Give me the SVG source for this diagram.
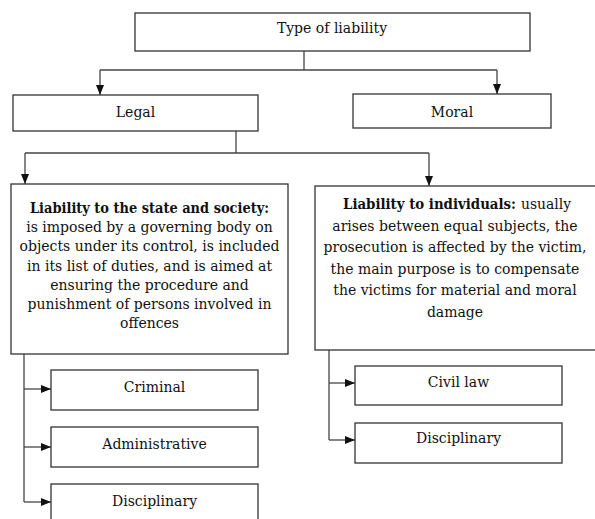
<svg xmlns="http://www.w3.org/2000/svg" width="595" height="519" viewBox="0 0 595 519">
<style>
  .box { fill: #ffffff; stroke: #333333; stroke-width: 1.3; }
  .conn { fill: none; stroke: #444444; stroke-width: 1.3; }
  text { font-family: 'DejaVu Serif', serif; font-size: 14px; fill: #111111; text-anchor: middle; }
  .b { font-weight: bold; }
  .s { text-anchor: start; }
</style>
<defs>
  <marker id="arr" viewBox="0 0 10 8" refX="10" refY="4" markerWidth="10" markerHeight="8" orient="auto" markerUnits="userSpaceOnUse">
    <path d="M0,0 L10,4 L0,8 z" fill="#111111"/>
  </marker>
</defs>
<rect width="595" height="519" fill="#ffffff"/>

<g id="connectors">
  <path class="conn" d="M304,51 V70"/>
  <path class="conn" d="M100,70 H497"/>
  <path class="conn" d="M100,70 V95" marker-end="url(#arr)"/>
  <path class="conn" d="M497,70 V94" marker-end="url(#arr)"/>
  <path class="conn" d="M236,131 V153"/>
  <path class="conn" d="M25,153 H429"/>
  <path class="conn" d="M25,153 V184" marker-end="url(#arr)"/>
  <path class="conn" d="M429,153 V186" marker-end="url(#arr)"/>
  <path class="conn" d="M24,354 V502"/>
  <path class="conn" d="M24,389 H51" marker-end="url(#arr)"/>
  <path class="conn" d="M24,447 H51" marker-end="url(#arr)"/>
  <path class="conn" d="M24,502 H51" marker-end="url(#arr)"/>
  <path class="conn" d="M329,350 V440"/>
  <path class="conn" d="M329,383 H355" marker-end="url(#arr)"/>
  <path class="conn" d="M329,440 H355" marker-end="url(#arr)"/>
</g>

<g id="type">
  <rect class="box" x="135" y="13" width="395" height="38"/>
  <text x="332" y="33">Type of liability</text>
</g>
<g id="legal">
  <rect class="box" x="13" y="95" width="245" height="36"/>
  <text x="135.5" y="117">Legal</text>
</g>
<g id="moral">
  <rect class="box" x="353" y="94" width="198" height="34"/>
  <text x="452" y="117">Moral</text>
</g>
<g id="state">
  <rect class="box" x="11" y="184" width="277" height="170"/>
  <text x="149.5" y="213" class="b" textLength="239" lengthAdjust="spacingAndGlyphs">Liability to the state and society:</text>
  <text x="149.5" y="232">is imposed by a governing body on</text>
  <text x="149.5" y="251">objects under its control, is included</text>
  <text x="149.5" y="271">in its list of duties, and is aimed at</text>
  <text x="149.5" y="290">ensuring the procedure and</text>
  <text x="149.5" y="309">punishment of persons involved in</text>
  <text x="149.5" y="328">offences</text>
</g>
<g id="individuals">
  <rect class="box" x="315" y="186" width="282" height="164"/>
  <text x="343" y="209" class="b s" textLength="173" lengthAdjust="spacingAndGlyphs">Liability to individuals:</text>
  <text x="521" y="209" class="s" textLength="50" lengthAdjust="spacingAndGlyphs">usually</text>
  <text x="455" y="230.5">arises between equal subjects, the</text>
  <text x="455" y="252">prosecution is affected by the victim,</text>
  <text x="455" y="273.5">the main purpose is to compensate</text>
  <text x="455" y="295">the victims for material and moral</text>
  <text x="455" y="316.5">damage</text>
</g>
<g id="criminal">
  <rect class="box" x="51" y="370" width="207" height="40"/>
  <text x="154.5" y="392">Criminal</text>
</g>
<g id="administrative">
  <rect class="box" x="51" y="427" width="207" height="40"/>
  <text x="154.5" y="449">Administrative</text>
</g>
<g id="disciplinary-state">
  <rect class="box" x="51" y="484" width="207" height="40"/>
  <text x="154.5" y="506">Disciplinary</text>
</g>
<g id="civil">
  <rect class="box" x="355" y="366" width="207" height="39"/>
  <text x="458.5" y="387">Civil law</text>
</g>
<g id="disciplinary-ind">
  <rect class="box" x="355" y="423" width="207" height="40"/>
  <text x="458.5" y="443">Disciplinary</text>
</g>
</svg>
